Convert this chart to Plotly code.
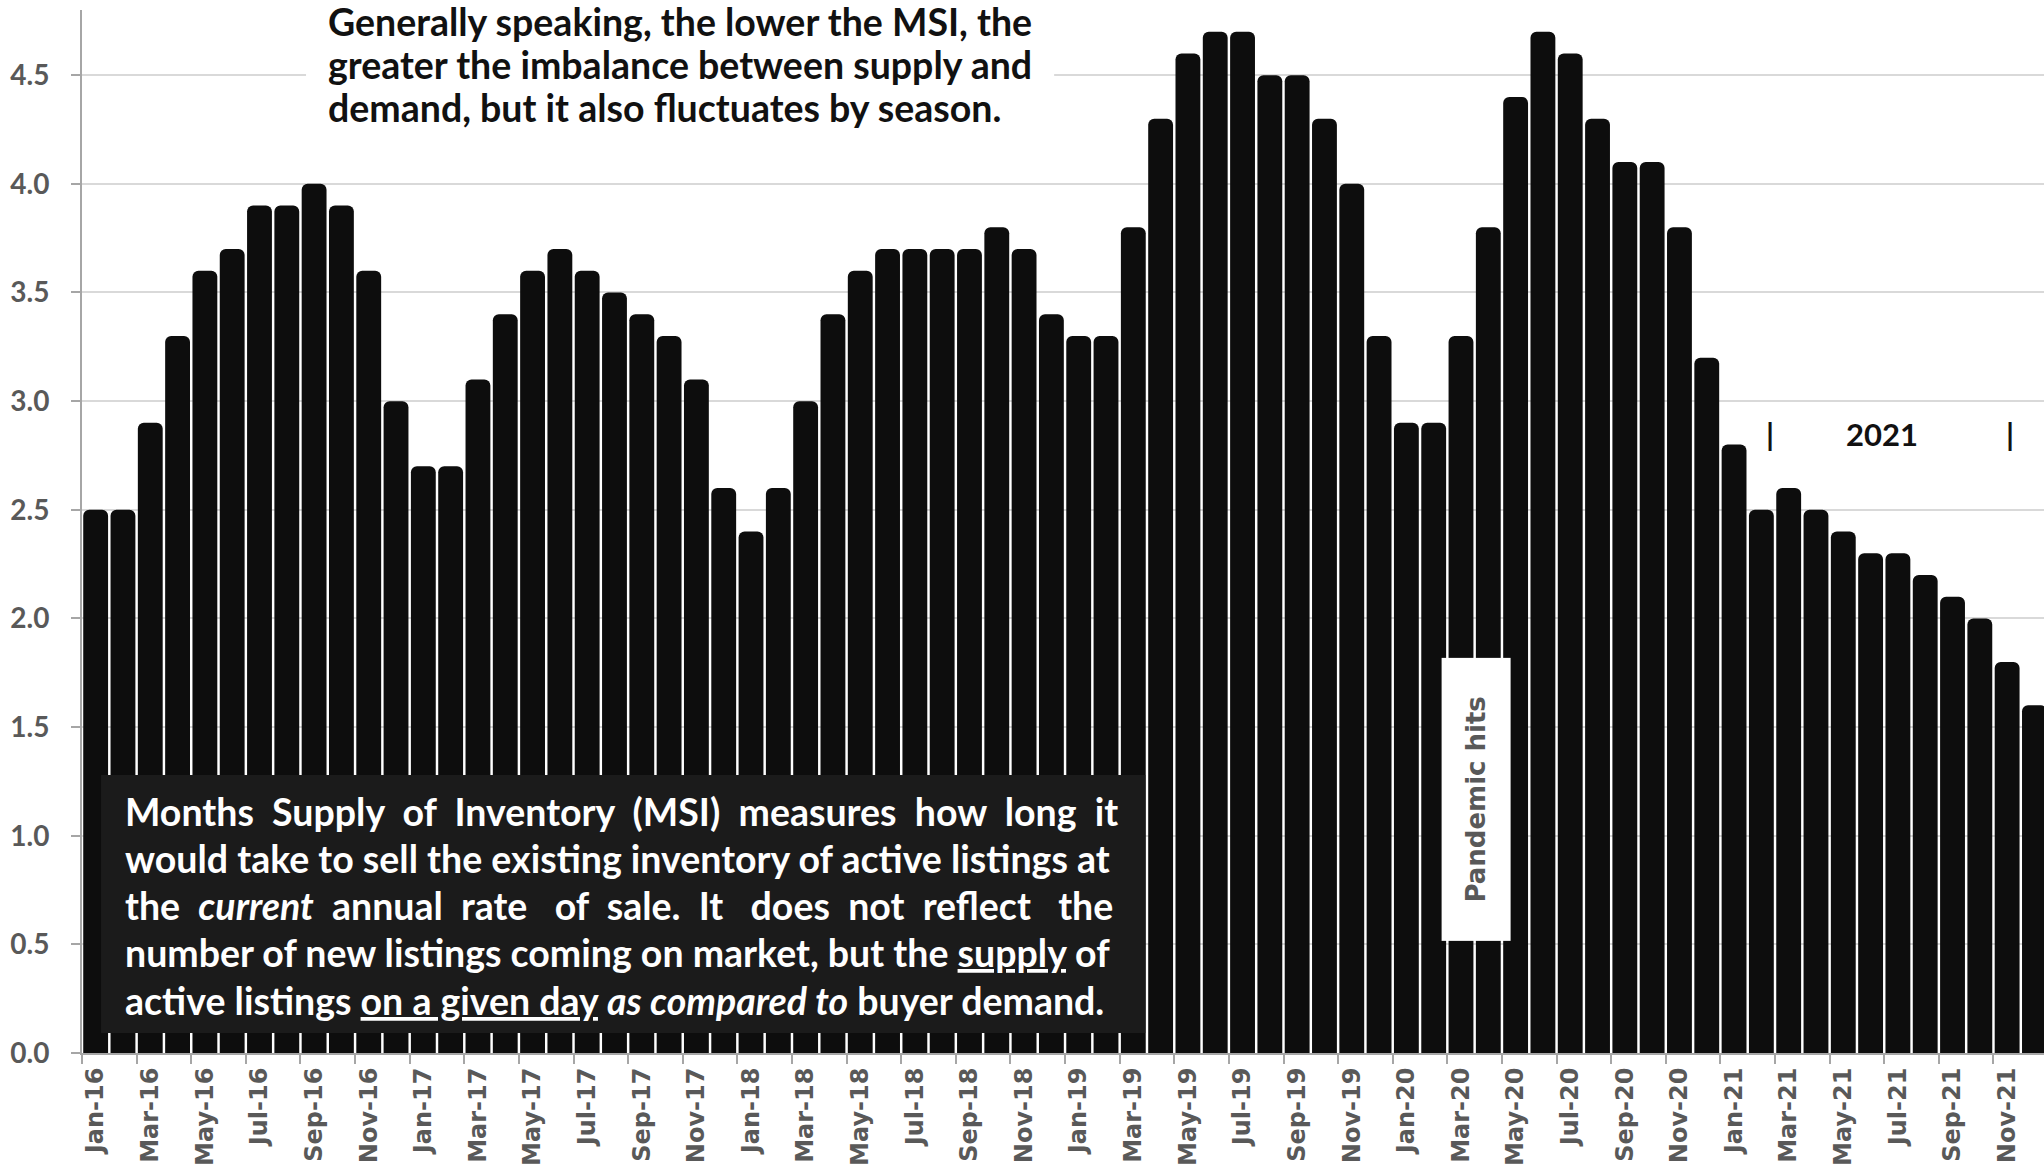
import plotly.graph_objects as go

# Monthly Months Supply of Inventory, Jan 2016 - Dec 2021
month_names = ["Jan", "Feb", "Mar", "Apr", "May", "Jun",
               "Jul", "Aug", "Sep", "Oct", "Nov", "Dec"]
years = ["16", "17", "18", "19", "20", "21"]
months = [f"{m}-{y}" for y in years for m in month_names]

msi = [
    2.5, 2.5, 2.9, 3.3, 3.6, 3.7, 3.9, 3.9, 4.0, 3.9, 3.6, 3.0,   # 2016
    2.7, 2.7, 3.1, 3.4, 3.6, 3.7, 3.6, 3.5, 3.4, 3.3, 3.1, 2.6,   # 2017
    2.4, 2.6, 3.0, 3.4, 3.6, 3.7, 3.7, 3.7, 3.7, 3.8, 3.7, 3.4,   # 2018
    3.3, 3.3, 3.8, 4.3, 4.6, 4.7, 4.7, 4.5, 4.5, 4.3, 4.0, 3.3,   # 2019
    2.9, 2.9, 3.3, 3.8, 4.4, 4.7, 4.6, 4.3, 4.1, 4.1, 3.8, 3.2,   # 2020
    2.8, 2.5, 2.6, 2.5, 2.4, 2.3, 2.3, 2.2, 2.1, 2.0, 1.8, 1.6,   # 2021
]

y_ticks = [0.0, 0.5, 1.0, 1.5, 2.0, 2.5, 3.0, 3.5, 4.0, 4.5]

top_note = [
    "Generally speaking, the lower the MSI, the",
    "greater the imbalance between supply and",
    "demand, but it also fluctuates by season.",
]

# (text, extra spaces per word gap) - extra spacing evens out the right edge
msi_note = [
    ("Months Supply of Inventory (MSI) measures how long it", [1] * 8),
    ("would take to sell the existing inventory of active listings at", None),
    ("the <i>current</i> annual rate of sale. It does not reflect the",
     [1, 1, 1, 2, 1, 1, 2, 1, 1, 2]),
    ("number of new listings coming on market, but the <u>supply</u> of", None),
    ("active listings <u>on a given day</u> <i>as compared to</i> buyer demand.", None),
]

BAR = "#0d0d0d"
GREY = "#595959"
AXIS = "#a6a6a6"
NOTE_FONT = "Lato"
TICK_FONT = "DejaVu Sans"
NBSP = "\u00a0"


def spread(text, extra):
    """Widen selected word gaps with non-breaking spaces."""
    if not extra:
        return text
    words = text.split(" ")
    out = words[0]
    for w, n in zip(words[1:], extra):
        out += " " + NBSP * n + w
    return out


fig = go.Figure(
    go.Bar(
        x=months,
        y=msi,
        marker=dict(color=BAR, line=dict(width=0), cornerradius=6),
        hoverinfo="x+y",
    )
)

fig.update_layout(
    width=2044,
    height=1173,
    margin=dict(l=82, r=0, t=10, b=120, autoexpand=False),
    plot_bgcolor="white",
    paper_bgcolor="white",
    showlegend=False,
    bargap=0.09,
)

fig.update_xaxes(
    type="category",
    range=[-0.5, 71.35],
    automargin=False,
    tickmode="linear",
    tick0=0,
    dtick=2,
    tickson="boundaries",
    tickangle=-90,
    ticks="outside",
    ticklen=9,
    tickwidth=2,
    tickcolor=AXIS,
    showline=True,
    linecolor=AXIS,
    linewidth=2,
    showgrid=False,
    ticklabelstandoff=3,
    tickfont=dict(family=TICK_FONT, size=24, color=GREY, weight="bold"),
)

fig.update_yaxes(
    range=[0, 4.8],
    automargin=False,
    tickmode="array",
    tickvals=y_ticks,
    ticktext=[f"{v:.1f}" for v in y_ticks],
    ticks="outside",
    ticklen=9,
    tickwidth=2,
    tickcolor=AXIS,
    showline=True,
    linecolor=AXIS,
    linewidth=2,
    showgrid=True,
    gridcolor="#d9d9d9",
    gridwidth=2,
    zeroline=False,
    ticklabelstandoff=16,
    tickfont=dict(family=NOTE_FONT, size=28, color=GREY, weight="bold"),
)

# white backing for the headline note
fig.add_shape(
    type="rect", xref="x", yref="y",
    x0=7.705, x1=35.1, y0=4.2, y1=4.8,
    fillcolor="white", line=dict(width=0), layer="above",
)
for txt, yy in zip(top_note, [4.748, 4.551, 4.353]):
    fig.add_annotation(
        x=8.44, y=yy, xref="x", yref="y",
        text=txt, showarrow=False, xanchor="left", yanchor="middle",
        font=dict(family=NOTE_FONT, size=37.5, color="#111111", weight="bold"),
    )

# dark explanatory panel over the early bars
fig.add_shape(
    type="rect", xref="x", yref="y",
    x0=0.196, x1=38.44, y0=0.092, y1=1.279,
    fillcolor="#1b1b1b", line=dict(width=0), layer="above",
)

line_y = [1.11, 0.894, 0.678, 0.462, 0.24]
for (txt, extra), yy in zip(msi_note, line_y):
    fig.add_annotation(
        x=0.983, y=yy, xref="x", yref="y",
        text=spread(txt, extra), showarrow=False,
        xanchor="left", yanchor="middle",
        font=dict(family=NOTE_FONT, size=37.5, color="white", weight="bold"),
    )

# pandemic marker
fig.add_annotation(
    x=50.54, y=1.166, xref="x", yref="y",
    text="Pandemic hits", textangle=-90, showarrow=False,
    bgcolor="white", width=280, height=66,
    font=dict(family=TICK_FONT, size=26, color=GREY, weight="bold"),
)

# 2021 bracket
for xx, txt in [(61.3, "|"), (65.4, "2021"), (70.1, "|")]:
    fig.add_annotation(
        x=xx, y=2.85, xref="x", yref="y",
        text=txt, showarrow=False,
        font=dict(family=NOTE_FONT, size=31, color="#111111", weight="bold"),
    )

fig.write_html("out.html")
